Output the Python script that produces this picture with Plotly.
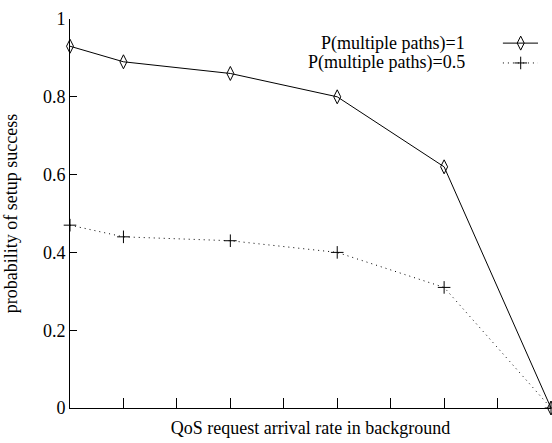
import plotly.graph_objects as go

# arrival-rate steps (unlabelled axis) and setup success probabilities
x_rate = [0, 1, 3, 5, 7, 9]
p_multi_1 = [0.93, 0.89, 0.86, 0.80, 0.62, 0.0]
p_multi_05 = [0.47, 0.44, 0.43, 0.40, 0.31, 0.0]
series_names = ["P(multiple paths)=1", "P(multiple paths)=0.5"]
y_ticks = [0, 0.2, 0.4, 0.6, 0.8, 1]
y_tick_text = ["0", "0.2", "0.4", "0.6", "0.8", "1"]

FONT = "Liberation Serif, Times New Roman, serif"
DOT = "1px,4px"
FS = 18
DIAMOND = dict(symbol="diamond-tall-open", size=10, color="black", line=dict(width=1))
CROSS = dict(symbol="cross-thin-open", size=9, color="black", line=dict(width=1, color="black"))

fig = go.Figure()
fig.add_trace(go.Scatter(
    x=x_rate, y=p_multi_1, mode="lines+markers", name=series_names[0],
    line=dict(color="black", width=1), marker=DIAMOND, cliponaxis=False,
))
fig.add_trace(go.Scatter(
    x=x_rate, y=p_multi_05, mode="lines+markers", name=series_names[1],
    line=dict(color="black", width=1, dash=DOT), marker=CROSS, cliponaxis=False,
))

# key samples drawn to the right of the legend labels
key_x = [0.900, 0.937, 0.973]
key_rows = [0.938, 0.887]
fig.add_trace(go.Scatter(
    x=key_x, y=[key_rows[0]] * 3, mode="lines", xaxis="x2", yaxis="y2",
    line=dict(color="black", width=1), showlegend=False, hoverinfo="skip",
))
fig.add_trace(go.Scatter(
    x=[key_x[1]], y=[key_rows[0]], mode="markers", xaxis="x2", yaxis="y2",
    marker=DIAMOND, showlegend=False, hoverinfo="skip",
))
fig.add_trace(go.Scatter(
    x=key_x, y=[key_rows[1]] * 3, mode="lines", xaxis="x2", yaxis="y2",
    line=dict(color="black", width=1, dash=DOT), showlegend=False, hoverinfo="skip",
))
fig.add_trace(go.Scatter(
    x=[key_x[1]], y=[key_rows[1]], mode="markers", xaxis="x2", yaxis="y2",
    marker=CROSS, showlegend=False, hoverinfo="skip",
))

for name, yr in zip(series_names, key_rows):
    fig.add_annotation(
        x=0.825, y=yr, xref="x2", yref="y2", text=name, showarrow=False,
        xanchor="right", yanchor="middle", font=dict(family=FONT, size=FS, color="black"),
    )

fig.update_layout(
    width=552, height=443,
    margin=dict(l=70, r=1, t=19, b=35),
    paper_bgcolor="white", plot_bgcolor="white",
    showlegend=False,
    font=dict(family=FONT, size=FS, color="black"),
    xaxis=dict(
        range=[0, 9], dtick=1, tick0=0, showticklabels=False,
        ticks="inside", ticklen=10, tickwidth=1, tickcolor="black",
        showline=True, linecolor="black", linewidth=1, showgrid=False, zeroline=False,
        title=dict(text="QoS request arrival rate in background", standoff=13,
                   font=dict(family=FONT, size=FS)),
    ),
    yaxis=dict(
        range=[0, 1], tickvals=y_ticks, ticktext=y_tick_text,
        ticks="inside", ticklen=7, tickwidth=1, tickcolor="black",
        showline=True, linecolor="black", linewidth=1, showgrid=False, zeroline=False,
        tickfont=dict(family=FONT, size=FS),
        title=dict(text="probability of setup success", standoff=20,
                   font=dict(family=FONT, size=FS)),
    ),
    xaxis2=dict(domain=[0, 1], range=[0, 1], visible=False, overlaying="x", anchor="y2"),
    yaxis2=dict(domain=[0, 1], range=[0, 1], visible=False, overlaying="y", anchor="x2"),
)

fig.write_html("out.html")
